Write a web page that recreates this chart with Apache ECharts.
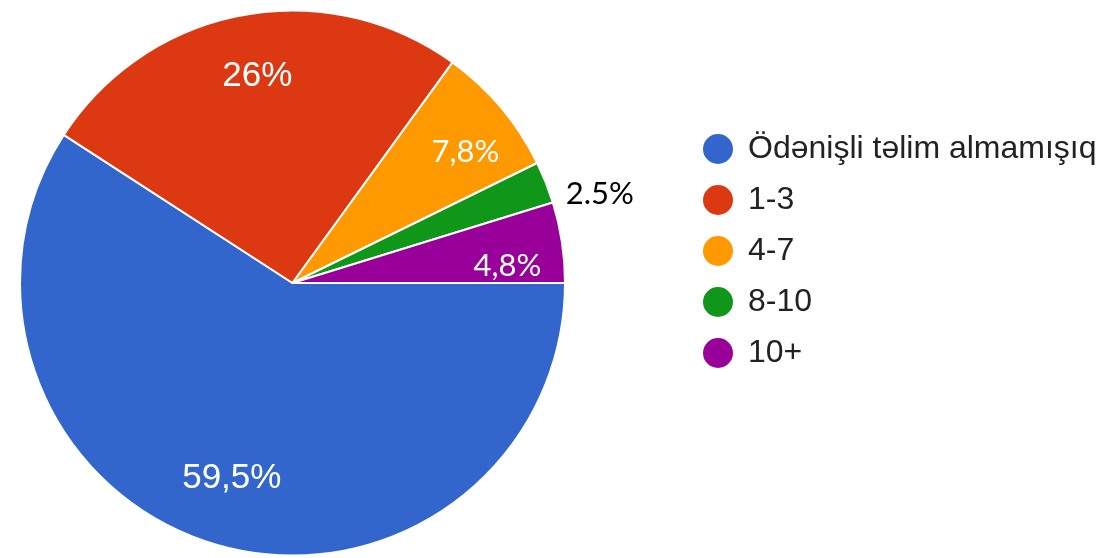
<!DOCTYPE html>
<html>
<head>
<meta charset="utf-8">
<script src="https://cdn.jsdelivr.net/npm/echarts@6/dist/echarts.min.js"></script>
<style>
  html, body { margin: 0; padding: 0; background: #ffffff; }
  #chart { width: 1107px; height: 558px; }
</style>
</head>
<body>
<div id="chart"></div>
<script>
// Survey answers: number of paid trainings taken
const categories = ['Ödənişli təlim almamışıq', '1-3', '4-7', '8-10', '10+'];
const shares = [59.5, 26, 7.8, 2.5, 4.8];
const shareLabels = ['59,5%', '26%', '7,8%', '2.5%', '4,8%'];

const palette = ['#3366cc', '#dc3912', '#ff9900', '#109618', '#990099'];

// per-slice label look (two typefaces, one dark label outside the pie)
const labelLook = [
  { fontFamily: 'Liberation Sans, Arial, sans-serif', fontSize: 35, color: '#ffffff' },
  { fontFamily: 'Liberation Sans, Arial, sans-serif', fontSize: 35, color: '#ffffff' },
  { fontFamily: 'Lato, sans-serif', fontSize: 31, color: '#ffffff' },
  { fontFamily: 'Lato, sans-serif', fontSize: 31, color: '#000000' },
  { fontFamily: 'Lato, sans-serif', fontSize: 31, color: '#ffffff' }
];
// small nudges of each percentage text away from its slice's mid-line
const labelNudge = [[0, -10], [4, 4], [9, 7], [6, 31], [3, 15]];

const center = [292.5, 283];
const R = 272.5;

const chart = echarts.init(document.getElementById('chart'), null, { renderer: 'canvas' });

const mainData = categories.map((name, i) => ({
  name: name,
  value: shares[i],
  itemStyle: { color: palette[i] }
}));

// transparent rings that only carry the percentage texts
function labelRing(showIdx) {
  return categories.map((name, i) => ({
    name: name,
    value: shares[i],
    itemStyle: { color: 'rgba(0,0,0,0)', borderWidth: 0 },
    label: showIdx.indexOf(i) >= 0
      ? Object.assign({ show: true, position: 'inside', formatter: shareLabels[i] }, labelLook[i])
      : { show: false }
  }));
}

function nudge(params) {
  const d = labelNudge[params.dataIndex];
  return { dx: d[0], dy: d[1] };
}

const option = {
  animation: false,
  legend: {
    orient: 'vertical',
    left: 696,
    top: 127,
    icon: 'circle',
    itemWidth: 50,
    itemHeight: 32,
    itemGap: 17,
    selectedMode: false,
    data: categories,
    textStyle: {
      fontFamily: 'Liberation Sans, Arial, sans-serif',
      fontSize: 32,
      lineHeight: 32,
      color: '#222222'
    }
  },
  series: [
    {
      type: 'pie',
      center: center,
      radius: [0, R],
      startAngle: 0,
      clockwise: true,
      avoidLabelOverlap: false,
      silent: true,
      label: { show: false },
      labelLine: { show: false },
      itemStyle: { borderColor: '#ffffff', borderWidth: 2, borderRadius: 0 },
      emphasis: { disabled: true },
      data: mainData
    },
    {
      type: 'pie',
      center: center,
      radius: [150, R],
      startAngle: 0,
      clockwise: true,
      avoidLabelOverlap: false,
      silent: true,
      labelLine: { show: false },
      labelLayout: nudge,
      emphasis: { disabled: true },
      data: labelRing([0, 1, 2, 4])
    },
    {
      type: 'pie',
      center: center,
      radius: [R, 370],
      startAngle: 0,
      clockwise: true,
      avoidLabelOverlap: false,
      silent: true,
      labelLine: { show: false },
      labelLayout: nudge,
      emphasis: { disabled: true },
      data: labelRing([3])
    }
  ]
};

chart.setOption(option);
</script>
</body>
</html>
